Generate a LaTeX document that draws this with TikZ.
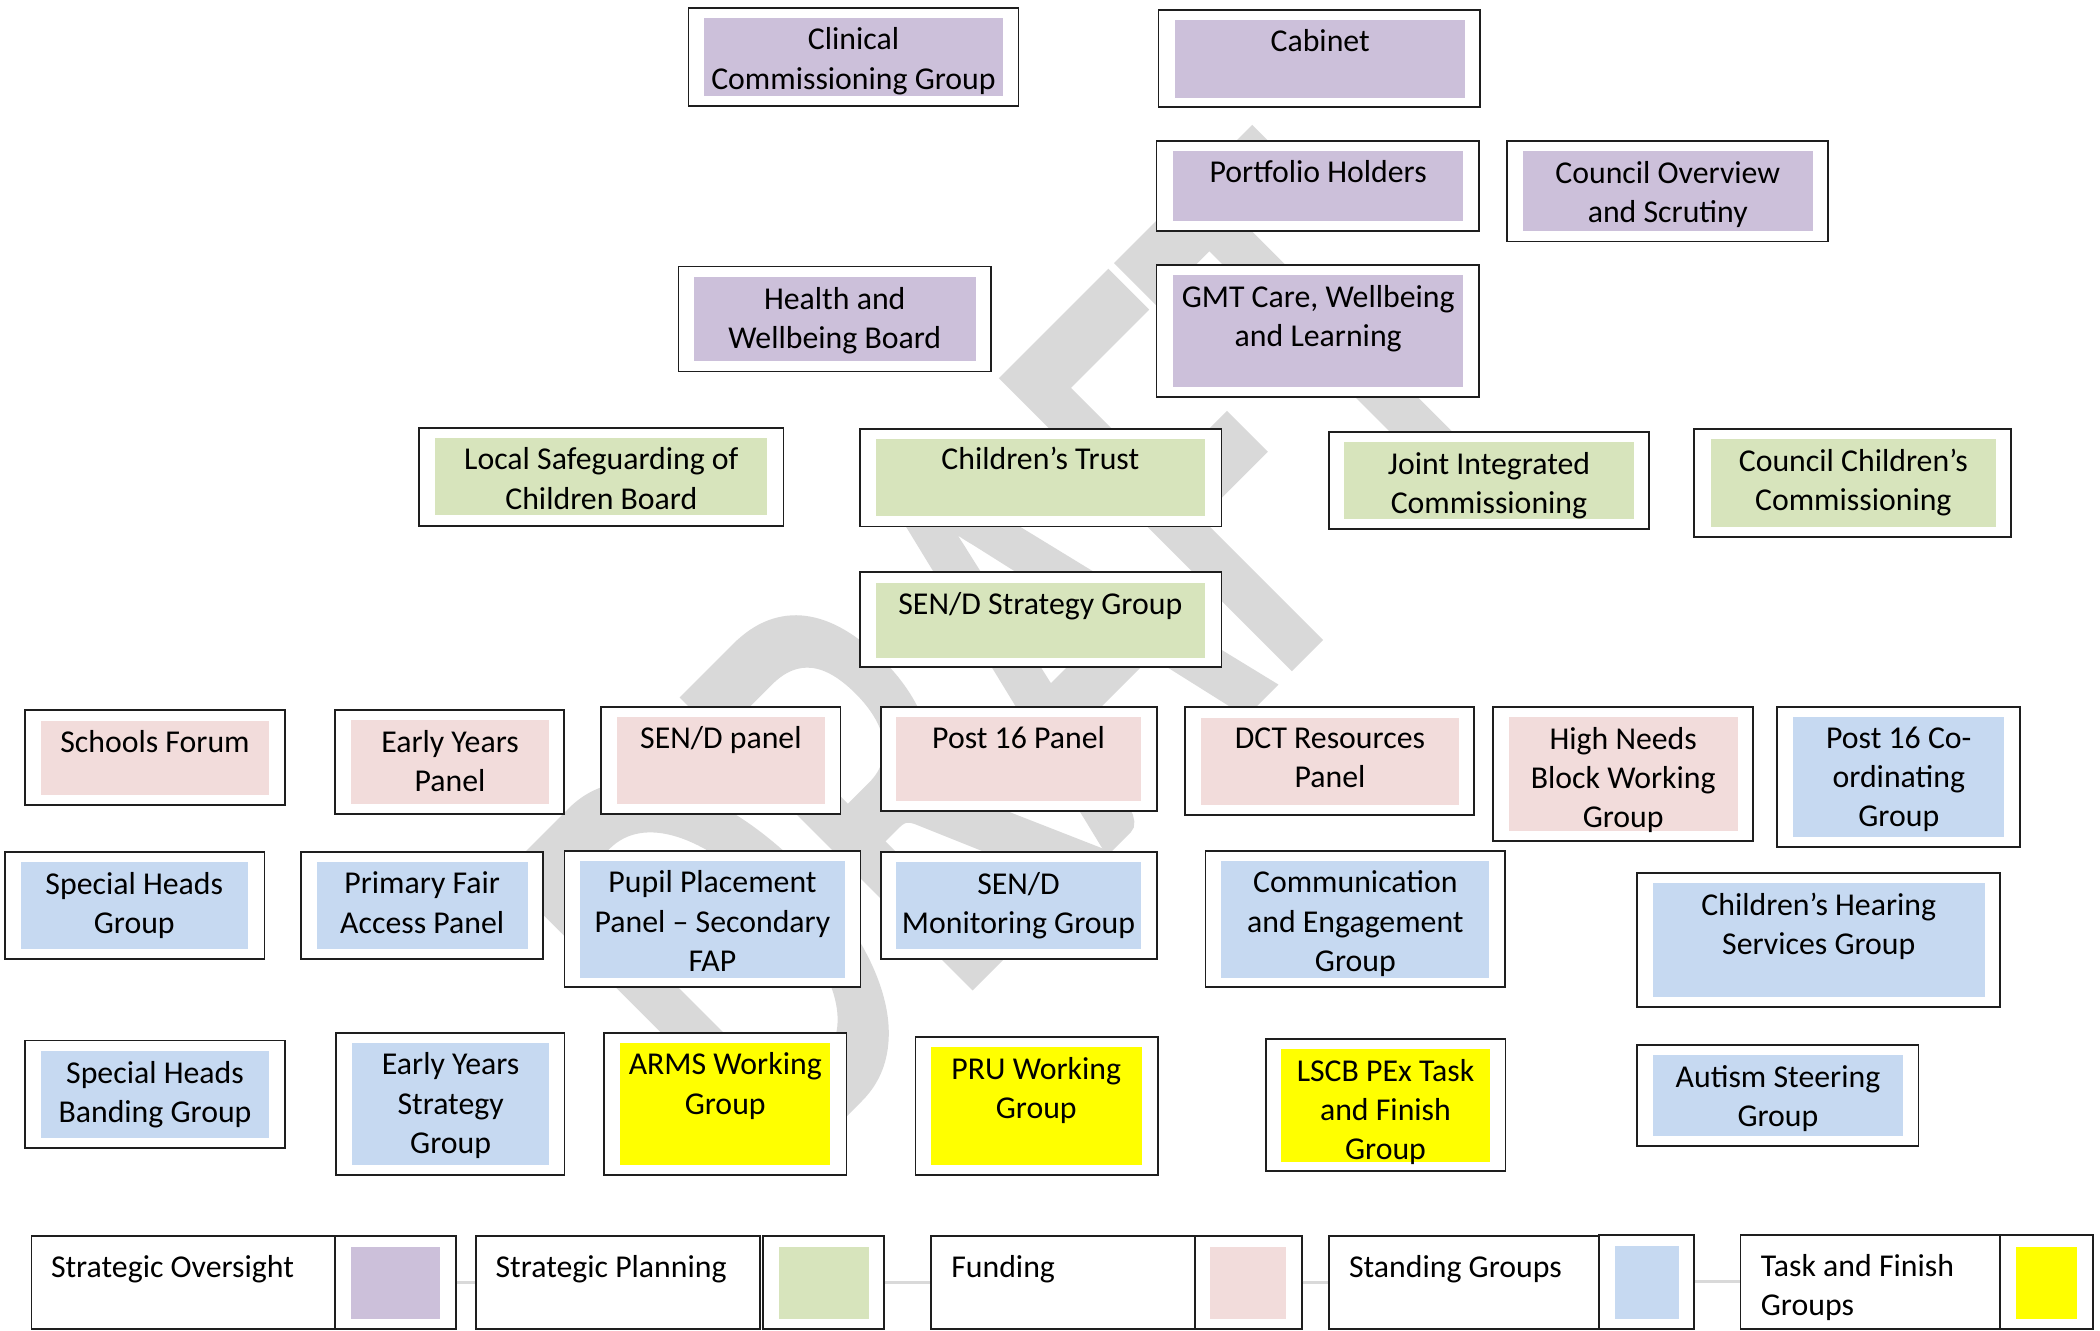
\documentclass[tikz,border=0pt]{standalone}
\usepackage{fontspec}
\setmainfont{Carlito}
\newfontfamily\wmfont[FakeBold=2]{Carlito}
\usetikzlibrary{fit,calc}
\definecolor{cpurple}{RGB}{204,192,218}
\definecolor{cgreen}{RGB}{215,228,188}
\definecolor{cpink}{RGB}{242,220,219}
\definecolor{cblue}{RGB}{198,217,241}
\definecolor{cyellow}{RGB}{255,255,0}
\definecolor{wmgrey}{RGB}{217,217,217}
\definecolor{framecol}{RGB}{30,30,30}
% optional arg: offset of the text top below the inner top
\newcommand\OrgBox[8][7.3]{%
  \path (#4) coordinate (#2-a) (#5) coordinate (#2-b) (#6) coordinate (#2-c) (#7) coordinate (#2-d);
  \node[frame, fit=(#2-a)(#2-b)] (#2) {};
  \node[innerfill, fill=#3, fit=(#2-c)(#2-d)] (#2-in) {};
  \node[boxtext] (#2-txt) at ($(#2-in.north)+(0,#1)$) {#8};
}
\begin{document}
\begin{tikzpicture}[x=0.5pt,y=-0.5pt,
  frame/.style={draw=framecol, line width=0.9pt, fill=white, inner sep=0pt},
  innerfill/.style={draw=none, inner sep=0pt},
  boxtext/.style={font=\fontsize{15.9}{19.6}\selectfont, align=center, inner sep=0pt, anchor=north, execute at begin node={\rule{0pt}{12pt}}},
  legtext/.style={font=\fontsize{15.9}{19.6}\selectfont, align=left, inner sep=0pt, anchor=north west, execute at begin node={\rule{0pt}{12pt}}},
  legline/.style={draw=wmgrey, line width=1.4pt},
  watermark/.style={font={\wmfont\fontsize{202}{202}\selectfont}, text=wmgrey, inner sep=0pt, rotate=45, yscale=1.55}]
\useasboundingbox (0,0) rectangle (2100,1330);
% watermark (rotated, stretched along the letters' height)
\begin{scope}[shift={(1016,654)}]
  \node[watermark] (wm) at (0,0) {DRAFT};
\end{scope}
% strategic oversight
\OrgBox[10]{ccg}{cpurple}{688.4,7.9}{1018.5,106.1}{703.8,17.9}{1003.2,95.7}{Clinical\\Commissioning Group}
\OrgBox{cabinet}{cpurple}{1158.5,9.6}{1479.9,107.1}{1175.2,20}{1465.2,97.5}{Cabinet}
\OrgBox{portfolio}{cpurple}{1156.5,140.7}{1478.6,231.1}{1173.2,151.1}{1463.2,220.7}{Portfolio Holders}
\OrgBox[10]{overview}{cpurple}{1506.7,140.7}{1828.1,241.4}{1522.8,151.1}{1812.7,230.7}{Council Overview\\and Scrutiny}
\OrgBox[10]{hwb}{cpurple}{678.4,266.4}{991.1,371.4}{693.8,277.1}{975.7,360.7}{Health and\\Wellbeing Board}
\OrgBox[10]{gmt}{cpurple}{1156.5,264.6}{1478.6,396.8}{1173.2,275}{1463.2,386.8}{GMT Care, Wellbeing\\and Learning}
% strategic planning
\OrgBox[10]{lscb}{cgreen}{419.2,427.9}{783.5,525.7}{435.3,437.9}{767.4,515}{Local Safeguarding of\\Children Board}
\OrgBox{trust}{cgreen}{859.8,428.6}{1221.4,526.4}{875.9,438.6}{1204.7,515.7}{Children’s Trust}
\OrgBox[10]{jic}{cgreen}{1328.6,431.8}{1649.3,528.9}{1344,442.1}{1634,518.6}{Joint Integrated\\Commissioning}
\OrgBox[10]{ccc}{cgreen}{1694.2,428.6}{2011,536.8}{1711,438.6}{1995.6,526.8}{Council Children’s\\Commissioning}
\OrgBox{sendsg}{cgreen}{859.8,572.2}{1221.4,667.3}{875.9,582.9}{1204.7,658}{SEN/D Strategy Group}
% funding
\OrgBox{sf}{cpink}{24.8,710.2}{284.6,805.3}{40.8,720.8}{269.2,794.7}{Schools Forum}
\OrgBox[10]{eyp}{cpink}{334.8,710.2}{563.9,814.3}{350.9,720}{549.1,804.1}{Early Years\\Panel}
\OrgBox{sendp}{cpink}{601.3,706.9}{840.4,814.3}{616.8,717.1}{825,804.1}{SEN/D panel}
\OrgBox{ppanel}{cpink}{880.6,706.9}{1157.1,810.6}{896,717.1}{1141.1,800.8}{Post 16 Panel}
\OrgBox[10]{dct}{cpink}{1184.6,707.3}{1473.9,815.1}{1200.7,718}{1459.2,804.9}{DCT Resources\\Panel}
\OrgBox[10]{hnb}{cpink}{1492.6,706.9}{1753.1,841.2}{1508.7,717.1}{1737.7,831}{High Needs\\Block Working\\Group}
% standing groups
\OrgBox[10]{pcoord}{cblue}{1777.2,706.9}{2019.7,847.3}{1793.3,717.1}{2004.3,837.1}{Post 16 Co-\\ordinating\\Group}
\OrgBox[10]{shg}{cblue}{4.7,851.8}{264.5,959.2}{20.8,862}{247.8,948.6}{Special Heads\\Group}
\OrgBox[10]{pfap}{cblue}{301.3,851.8}{543.1,959.2}{316.7,862}{527.7,948.6}{Primary Fair\\Access Panel}
\OrgBox[10]{ppp}{cblue}{564.5,850.6}{860.5,987.3}{579.9,860.8}{845.1,977.6}{Pupil Placement\\Panel – Secondary\\FAP}
\OrgBox[10]{sendm}{cblue}{880.6,851.8}{1157.1,959.2}{896,862}{1141.1,948.6}{SEN/D\\Monitoring Group}
\OrgBox[10]{comm}{cblue}{1205.4,850.6}{1504.7,987.3}{1221.4,860.8}{1489.3,977.6}{Communication\\and Engagement\\Group}
\OrgBox[10]{chs}{cblue}{1636.6,872.7}{2000.2,1007.3}{1652.7,882.9}{1984.8,996.7}{Children’s Hearing\\Services Group}
\OrgBox[10]{shbg}{cblue}{24.8,1040.4}{284.6,1147.8}{40.8,1051}{269.2,1137.6}{Special Heads\\Banding Group}
\OrgBox[10]{eys}{cblue}{336.2,1033}{564.5,1175.1}{352.2,1042.9}{549.1,1164.5}{Early Years\\Strategy\\Group}
\OrgBox[10]{autism}{cblue}{1636.6,1045.3}{1918.5,1145.7}{1652.7,1055.1}{1903.2,1135.5}{Autism Steering\\Group}
% task and finish
\OrgBox[10]{arms}{cyellow}{604,1033}{846.4,1175.1}{620.1,1042.9}{830.4,1164.5}{ARMS Working\\Group}
\OrgBox[10]{pru}{cyellow}{915.4,1036.7}{1157.8,1175.1}{930.8,1047}{1141.7,1164.5}{PRU Working\\Group}
\OrgBox[10]{pex}{cyellow}{1265.6,1038.8}{1505.4,1171}{1281,1049}{1490,1161.6}{LSCB PEx Task\\and Finish\\Group}
% legend
\node[frame, fit={(31.5,1236.3)(334.8,1328.8)}] (leg1t) {};
\node[frame, fit={(334.8,1236.3)(456,1328.8)}] (leg1s) {};
\node[innerfill, fill=cpurple, fit={(350.9,1246.8)(440,1318.6)}] (leg1f) {};
\node[legtext] (leg1x) at ($(leg1t.north west)+(20,18)$) {Strategic Oversight};
\node[frame, fit={(476.1,1236.3)(760.1,1328.8)}] (leg2t) {};
\node[frame, fit={(762.7,1236.3)(883.9,1328.8)}] (leg2s) {};
\node[innerfill, fill=cgreen, fit={(778.8,1246.8)(869.2,1318.6)}] (leg2f) {};
\node[legtext] (leg2x) at ($(leg2t.north west)+(20,18)$) {Strategic Planning};
\node[frame, fit={(930.8,1236.3)(1194.6,1328.8)}] (leg3t) {};
\node[frame, fit={(1194.6,1236.3)(1301.8,1328.8)}] (leg3s) {};
\node[innerfill, fill=cpink, fit={(1210,1246.8)(1285.7,1318.6)}] (leg3f) {};
\node[legtext] (leg3x) at ($(leg3t.north west)+(21,18)$) {Funding};
\node[frame, fit={(1328.6,1236.3)(1599.1,1328.8)}] (leg4t) {};
\node[frame, fit={(1599.1,1234.9)(1694.2,1328.8)}] (leg4s) {};
\node[innerfill, fill=cblue, fit={(1615.2,1245.8)(1678.8,1318.6)}] (leg4f) {};
\node[legtext] (leg4x) at ($(leg4t.north west)+(21,18)$) {Standing Groups};
\node[frame, fit={(1740.4,1234.9)(2000.2,1328.8)}] (leg5t) {};
\node[frame, fit={(2000.2,1234.9)(2093.3,1328.8)}] (leg5s) {};
\node[innerfill, fill=cyellow, fit={(2016.3,1246.8)(2077.2,1319.3)}] (leg5f) {};
\node[legtext] (leg5x) at ($(leg5t.north west)+(21,19.5)$) {Task and Finish\\Groups};
\draw[legline] (leg1s.east) -- (leg2t.west);
\draw[legline] (leg2s.east) -- (leg3t.west);
\draw[legline] (leg3s.east) -- (leg4t.west);
\draw[legline] (leg4s.east) -- (leg5t.west);
\end{tikzpicture}
\end{document}
